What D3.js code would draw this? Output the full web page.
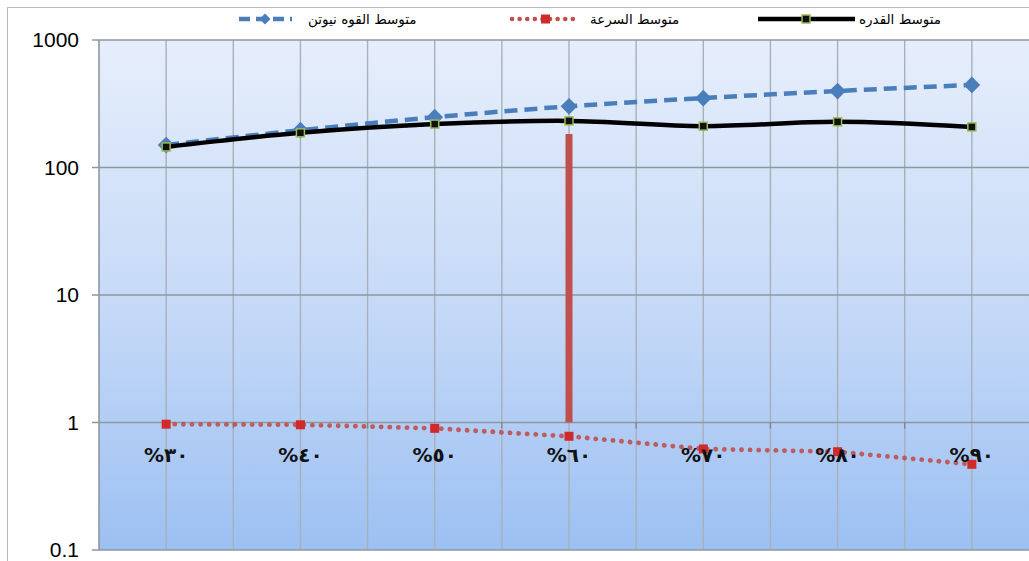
<!DOCTYPE html>
<html>
<head>
<meta charset="utf-8">
<script src="https://cdn.jsdelivr.net/npm/d3@7"></script>
<style>
  html, body { margin: 0; padding: 0; background: #ffffff; overflow: hidden; }
  svg { display: block; }
</style>
</head>
<body>
<svg id="chart" width="1029" height="561"></svg>
<script>
// Categories (load percentage) and the three measured series
const categories = ["٣٠%", "٤٠%", "٥٠%", "٦٠%", "٧٠%", "٨٠%", "٩٠%"];
const forceValues = [150, 196, 248, 302, 350, 398, 444];      // متوسط القوه نيوتن
const speedValues = [0.97, 0.96, 0.90, 0.78, 0.62, 0.59, 0.47]; // متوسط السرعة
const powerValues = [145, 187, 219, 232, 211, 228, 208];      // متوسط القدره
const yTickValues = [0.1, 1, 10, 100, 1000];
const yTickLabels = ["0.1", "1", "10", "100", "1000"];
// Single highlighted column at the 60% load
const barCategory = ["٦٠%"];
const barValue = [183];
const legendLabels = ["متوسط القوه  نيوتن", "متوسط السرعة", "متوسط القدره"];

const svg = d3.select("#chart");
const plot = { left: 99, right: 1039, top: 40, bottom: 550 };

const x = d3.scaleBand().domain(categories).range([plot.left, plot.right]).padding(0);
const cx = c => x(c) + x.bandwidth() / 2;
const y = d3.scaleLog().domain([0.1, 1000]).range([plot.bottom, plot.top]);

// Outer chart frame
svg.append("rect")
  .attr("x", 7.5).attr("y", 7.5).attr("width", 1040).attr("height", 560)
  .attr("fill", "#ffffff").attr("stroke", "#b9b9b9").attr("stroke-width", 1);

// Plot background gradient
const defs = svg.append("defs");
const grad = defs.append("linearGradient").attr("id", "bg")
  .attr("x1", 0).attr("y1", 0).attr("x2", 0).attr("y2", 1);
grad.append("stop").attr("offset", "0%").attr("stop-color", "#e6eefb");
grad.append("stop").attr("offset", "55%").attr("stop-color", "#c3d8f7");
grad.append("stop").attr("offset", "100%").attr("stop-color", "#9cc0f2");

svg.append("rect")
  .attr("x", plot.left).attr("y", plot.top)
  .attr("width", plot.right - plot.left).attr("height", plot.bottom - plot.top)
  .attr("fill", "url(#bg)");

// Vertical gridlines: at band boundaries and band centres
const vLines = [];
categories.forEach(c => { vLines.push(x(c)); vLines.push(cx(c)); });
svg.append("g").selectAll("line").data(vLines.filter(v => v > plot.left + 1)).join("line")
  .attr("x1", d => d).attr("x2", d => d)
  .attr("y1", plot.top).attr("y2", plot.bottom)
  .attr("stroke", "#a9b0b8").attr("stroke-width", 1.4);

// Horizontal gridlines at each decade
svg.append("g").selectAll("line").data(yTickValues).join("line")
  .attr("x1", plot.left - 7).attr("x2", plot.right)
  .attr("y1", d => y(d)).attr("y2", d => y(d))
  .attr("stroke", "#8e979f").attr("stroke-width", 1.6);

// Value axis line and labels
svg.append("line")
  .attr("x1", plot.left).attr("x2", plot.left)
  .attr("y1", plot.top).attr("y2", plot.bottom)
  .attr("stroke", "#8e979f").attr("stroke-width", 1.6);

svg.append("g").selectAll("text").data(yTickValues).join("text")
  .attr("x", 79).attr("y", d => y(d) + 7)
  .attr("text-anchor", "end")
  .attr("font-family", "Liberation Sans, Arial, sans-serif")
  .attr("font-size", 21)
  .attr("fill", "#000")
  .text((d, i) => yTickLabels[i]);

// Category axis crosses at 1, with tick marks at band boundaries
const axisY = y(1);
svg.append("g").selectAll("line").data(categories.slice(1)).join("line")
  .attr("x1", d => x(d)).attr("x2", d => x(d))
  .attr("y1", axisY).attr("y2", axisY + 6)
  .attr("stroke", "#7f8890").attr("stroke-width", 1.4);

// Highlight column
svg.append("g").selectAll("rect").data(barCategory).join("rect")
  .attr("x", d => cx(d) - 3.5)
  .attr("width", 7)
  .attr("y", (d, i) => y(barValue[i]))
  .attr("height", (d, i) => y(1) - y(barValue[i]))
  .attr("fill", "#c0504d");

// Force series: dashed blue line with diamonds
const lineForce = d3.line().x((d, i) => cx(categories[i])).y(d => y(d)).curve(d3.curveMonotoneX);
svg.append("path").datum(forceValues)
  .attr("d", lineForce)
  .attr("fill", "none").attr("stroke", "#4a7ebb").attr("stroke-width", 4.5)
  .attr("stroke-dasharray", "13,7");

svg.append("g").selectAll("path").data(forceValues).join("path")
  .attr("d", d3.symbol().type(d3.symbolSquare).size(140))
  .attr("transform", (d, i) => `translate(${cx(categories[i])},${y(d)}) rotate(45)`)
  .attr("fill", "#4a7ebb");

// Power series: smooth black line with small green-edged squares
const linePower = d3.line().x((d, i) => cx(categories[i])).y(d => y(d)).curve(d3.curveCatmullRom.alpha(0.5));
svg.append("path").datum(powerValues)
  .attr("d", linePower)
  .attr("fill", "none").attr("stroke", "#000000").attr("stroke-width", 4.5);

svg.append("g").selectAll("rect").data(powerValues).join("rect")
  .attr("x", (d, i) => cx(categories[i]) - 4)
  .attr("y", d => y(d) - 4)
  .attr("width", 8).attr("height", 8)
  .attr("fill", "#111").attr("stroke", "#9bbb59").attr("stroke-width", 1.5);

// Speed series: dotted red line with square markers
const lineSpeed = d3.line().x((d, i) => cx(categories[i])).y(d => y(d));
svg.append("path").datum(speedValues)
  .attr("d", lineSpeed)
  .attr("fill", "none").attr("stroke", "#c0504d").attr("stroke-width", 4.8)
  .attr("stroke-linecap", "round")
  .attr("stroke-dasharray", "0.1,8.5")
  .attr("opacity", 0.9);

svg.append("g").selectAll("rect").data(speedValues).join("rect")
  .attr("x", (d, i) => cx(categories[i]) - 4.5)
  .attr("y", d => y(d) - 4.5)
  .attr("width", 9).attr("height", 9)
  .attr("fill", "#d12a2a");

// Category labels below the crossing axis
svg.append("g").selectAll("text").data(categories).join("text")
  .attr("x", d => cx(d)).attr("y", axisY + 39)
  .attr("text-anchor", "middle")
  .attr("direction", "rtl")
  .attr("font-family", "DejaVu Sans, sans-serif")
  .attr("font-weight", "bold")
  .attr("font-size", 20)
  .attr("fill", "#111")
  .text(d => d);

// Legend
const legendY = 19;
const lg = svg.append("g")
  .attr("font-family", "DejaVu Sans, sans-serif")
  .attr("font-size", 13.5)
  .attr("fill", "#000");

// force entry
lg.append("line").attr("x1", 239).attr("x2", 292).attr("y1", legendY).attr("y2", legendY)
  .attr("stroke", "#4a7ebb").attr("stroke-width", 4.5).attr("stroke-dasharray", "11,6");
lg.append("path").attr("d", d3.symbol().type(d3.symbolSquare).size(60))
  .attr("transform", `translate(265,${legendY}) rotate(45)`).attr("fill", "#4a7ebb");
lg.append("text").attr("x", 308).attr("y", legendY + 5).text(legendLabels[0]);

// speed entry
lg.append("line").attr("x1", 512).attr("x2", 580).attr("y1", legendY).attr("y2", legendY)
  .attr("stroke", "#c0504d").attr("stroke-width", 4.5).attr("stroke-linecap", "round")
  .attr("stroke-dasharray", "0.1,7.5");
lg.append("rect").attr("x", 541).attr("y", legendY - 4.5).attr("width", 9).attr("height", 9)
  .attr("fill", "#d12a2a");
lg.append("text").attr("x", 590).attr("y", legendY + 5).text(legendLabels[1]);

// power entry
lg.append("line").attr("x1", 758).attr("x2", 855).attr("y1", legendY).attr("y2", legendY)
  .attr("stroke", "#000").attr("stroke-width", 4.5);
lg.append("rect").attr("x", 802).attr("y", legendY - 4).attr("width", 8).attr("height", 8)
  .attr("fill", "#111").attr("stroke", "#9bbb59").attr("stroke-width", 1.5);
lg.append("text").attr("x", 859).attr("y", legendY + 5).text(legendLabels[2]);
</script>
</body>
</html>
